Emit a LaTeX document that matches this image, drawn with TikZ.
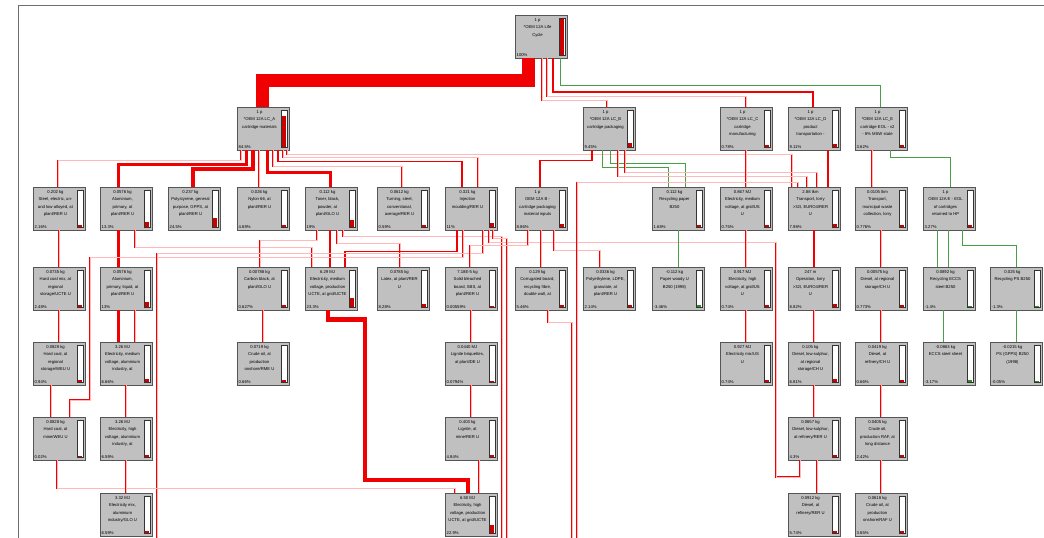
\documentclass[tikz,border=0pt]{standalone}
\usepackage{fontspec}
\setmainfont{Liberation Sans}
\usetikzlibrary{positioning,calc}
\definecolor{boxfill}{RGB}{192,192,192}
\definecolor{boxline}{RGB}{85,85,85}
\definecolor{flowred}{RGB}{240,0,0}
\definecolor{flowpink}{RGB}{255,185,185}
\definecolor{flowgreen}{RGB}{70,160,70}
\definecolor{barred}{RGB}{205,0,0}
\definecolor{bargreen}{RGB}{40,140,40}
\definecolor{framegray}{RGB}{110,110,110}

\tikzset{
  procbox/.style={draw=boxline, fill=boxfill, line width=0.7pt, minimum width=52pt, minimum height=43pt, inner sep=0pt},
  proctext/.style={anchor=north, align=center, inner sep=0pt, font=\fontsize{4.2}{7.5}\selectfont},
  procpct/.style={anchor=south west, inner sep=0pt, font=\fontsize{4.2}{5}\selectfont},
  procbar/.style={draw=black!80, fill=white, line width=0.6pt},
  flowthin/.style={draw=flowred, double=flowpink, line width=0.35pt, double distance=0.6pt},
  flowfat/.style={draw=flowred, line width=#1},
  flowneg/.style={draw=flowgreen, line width=0.8pt}
}

% name, left, top, text, share, bar fraction, bar colour
\newcommand{\unitproc}[7]{%
  \node[procbox] (#1) at ({#2+26},{#3+21.5}) {};
  \node[proctext] (#1-t) at ({#2+22.5},{#3+3}) {#4};
  \node[procpct] (#1-p) at ({#2+1.5},{#3+42}) {#5};
  \draw[procbar] ({#2+44},{#3+3}) rectangle ({#2+50},{#3+40.5});
  \fill[#7] ({#2+44.6},{#3+39.9}) rectangle ({#2+49.4},{#3+39.9-36.3*#6});
}

\begin{document}
\begin{tikzpicture}[x=1pt, y=-1pt]
  \useasboundingbox (0,0) rectangle (1044,538);
  \fill[white] (0,0) rectangle (1044,538);
  \draw[framegray, line width=1pt] (18,538) -- (18,5) -- (1044,5);

  % life cycle stages
  \unitproc{lifecycle}{515}{15}{1 p\\{*}OEM 12A Life\\Cycle}{100\%}{1}{barred}
  \unitproc{lcA}{237}{107}{1 p\\{*}OEM 12A LC\_A\\cartridge materials}{84.5\%}{0.845}{barred}
  \unitproc{lcB}{583}{107}{1 p\\{*}OEM 12A LC\_B\\cartridge packaging}{9.45\%}{0.095}{barred}
  \unitproc{lcC}{720}{107}{1 p\\{*}OEM 12A LC\_C\\cartridge\\manufacturing}{0.78\%}{0.04}{barred}
  \unitproc{lcD}{788}{107}{1 p\\{*}OEM 12A LC\_D\\product\\transportation -}{9.11\%}{0.091}{barred}
  \unitproc{lcE}{855}{107}{1 p\\{*}OEM 12A LC\_E\\cartridge EOL - v2\\- 8\% MSW state}{3.62\%}{0.04}{barred}

  % second row
  \unitproc{steel}{33}{187}{0.202 kg\\Steel, electric, un-\\and low-alloyed, at\\plant/RER U}{2.16\%}{0.04}{barred}
  \unitproc{alu}{100}{187}{0.0576 kg\\Aluminium,\\primary, at\\plant/RER U}{13.3\%}{0.133}{barred}
  \unitproc{gpps}{168}{187}{0.237 kg\\Polystyrene, general\\purpose, GPPS, at\\plant/RER U}{24.5\%}{0.245}{barred}
  \unitproc{nylon}{237}{187}{0.026 kg\\Nylon 66, at\\plant/RER U}{4.69\%}{0.047}{barred}
  \unitproc{toner}{305}{187}{0.112 kg\\Toner, black,\\powder, at\\plant/GLO U}{19\%}{0.19}{barred}
  \unitproc{turning}{377}{187}{0.0612 kg\\Turning, steel,\\conventional,\\average/RER U}{0.59\%}{0.04}{barred}
  \unitproc{moulding}{445}{187}{0.321 kg\\Injection\\moulding/RER U}{11\%}{0.11}{barred}
  \unitproc{pkginputs}{515}{187}{1 p\\OEM 12A B -\\cartridge packaging\\material inputs}{8.86\%}{0.089}{barred}
  \unitproc{recpaper}{652}{187}{0.112 kg\\Recycling paper\\B250}{1.68\%}{0.04}{barred}
  \unitproc{elecmedus}{720}{187}{0.867 MJ\\Electricity, medium\\voltage, at grid/US\\U}{0.75\%}{0.04}{barred}
  \unitproc{lorry}{788}{187}{2.88 tkm\\Transport, lorry\\>32t, EURO4/RER\\U}{7.98\%}{0.08}{barred}
  \unitproc{municipal}{855}{187}{0.0105 tkm\\Transport,\\municipal waste\\collection, lorry}{0.776\%}{0.04}{barred}
  \unitproc{eolinputs}{923}{187}{1 p\\OEM 12A E - EOL\\of cartridges\\returned to HP}{3.27\%}{0.04}{barred}

  % third row
  \unitproc{coalmix}{33}{267}{0.0735 kg\\Hard coal mix, at\\regional\\storage/UCTE U}{2.48\%}{0.04}{barred}
  \unitproc{aluliquid}{100}{267}{0.0576 kg\\Aluminium,\\primary, liquid, at\\plant/RER U}{13\%}{0.13}{barred}
  \unitproc{carbon}{237}{267}{0.00788 kg\\Carbon black, at\\plant/GLO U}{0.627\%}{0.04}{barred}
  \unitproc{elecucte}{305}{267}{6.29 MJ\\Electricity, medium\\voltage, production\\UCTE, at grid/UCTE}{23.3\%}{0.233}{barred}
  \unitproc{latex}{377}{267}{0.0785 kg\\Latex, at plant/RER\\U}{8.28\%}{0.083}{barred}
  \unitproc{sbsboard}{445}{267}{7.18E-5 kg\\Solid bleached\\board, SBS, at\\plant/RER U}{0.00559\%}{0.03}{barred}
  \unitproc{corrugated}{515}{267}{0.129 kg\\Corrugated board,\\recycling fibre,\\double wall, at}{5.46\%}{0.055}{barred}
  \unitproc{ldpe}{583}{267}{0.0336 kg\\Polyethylene, LDPE,\\granulate, at\\plant/RER U}{2.14\%}{0.04}{barred}
  \unitproc{paperwoody}{652}{267}{-0.112 kg\\Paper woody U\\B250 (1998)}{-3.46\%}{0.04}{bargreen}
  \unitproc{elechighus}{720}{267}{0.917 MJ\\Electricity, high\\voltage, at grid/US\\U}{0.74\%}{0.04}{barred}
  \unitproc{operation}{788}{267}{247 m\\Operation, lorry\\>32t, EURO4/RER\\U}{8.82\%}{0.088}{barred}
  \unitproc{dieselreg}{855}{267}{0.00575 kg\\Diesel, at regional\\storage/CH U}{0.773\%}{0.04}{barred}
  \unitproc{receccs}{923}{267}{0.0892 kg\\Recycling ECCS\\steel B250}{-1.4\%}{0.03}{bargreen}
  \unitproc{recps}{990}{267}{0.025 kg\\Recycling PS B250}{-1.3\%}{0.03}{bargreen}

  % fourth row
  \unitproc{coalreg}{33}{342}{0.0828 kg\\Hard coal, at\\regional\\storage/WEU U}{0.94\%}{0.04}{barred}
  \unitproc{elecmedalu}{100}{342}{3.26 MJ\\Electricity, medium\\voltage, aluminium\\industry, at}{6.66\%}{0.067}{barred}
  \unitproc{crudeRME}{237}{342}{0.0719 kg\\Crude oil, at\\production\\onshore/RME U}{0.66\%}{0.04}{barred}
  \unitproc{briquettes}{445}{342}{0.0440 MJ\\Lignite briquettes,\\at plant/DE U}{0.0794\%}{0.03}{barred}
  \unitproc{elecmixus}{720}{342}{0.927 MJ\\Electricity mix/US\\U}{0.74\%}{0.04}{barred}
  \unitproc{dieselLSreg}{788}{342}{0.105 kg\\Diesel, low-sulphur,\\at regional\\storage/CH U}{6.81\%}{0.068}{barred}
  \unitproc{dieselCH}{855}{342}{0.0419 kg\\Diesel, at\\refinery/CH U}{0.66\%}{0.04}{barred}
  \unitproc{eccssheet}{923}{342}{-0.0863 kg\\ECCS steel sheet}{-3.17\%}{0.04}{bargreen}
  \unitproc{gppsold}{990}{342}{-0.0215 kg\\PS (GPPS) B250\\(1998)}{-0.05\%}{0.03}{bargreen}

  % fifth row
  \unitproc{coalmine}{33}{417}{0.0828 kg\\Hard coal, at\\mine/WEU U}{0.02\%}{0.03}{barred}
  \unitproc{elechighalu}{100}{417}{3.26 MJ\\Electricity, high\\voltage, aluminium\\industry, at}{6.59\%}{0.066}{barred}
  \unitproc{lignite}{445}{417}{0.403 kg\\Lignite, at\\mine/RER U}{4.84\%}{0.048}{barred}
  \unitproc{dieselLSref}{788}{417}{0.0657 kg\\Diesel, low-sulphur,\\at refinery/RER U}{4.3\%}{0.043}{barred}
  \unitproc{crudeRAF}{855}{417}{0.0405 kg\\Crude oil,\\production RAF, at\\long distance}{2.42\%}{0.04}{barred}

  % sixth row
  \unitproc{elecmixalu}{100}{493}{3.32 MJ\\Electricity mix,\\aluminium\\industry/GLO U}{6.59\%}{0.066}{barred}
  \unitproc{elechighucte}{445}{493}{6.50 MJ\\Electricity, high\\voltage, production\\UCTE, at grid/UCTE}{22.9\%}{0.229}{barred}
  \unitproc{dieselRER}{788}{493}{0.0912 kg\\Diesel, at\\refinery/RER U}{5.74\%}{0.057}{barred}
  \unitproc{crudeonshore}{855}{493}{0.0618 kg\\Crude oil, at\\production\\onshore/RAF U}{3.65\%}{0.04}{barred}

  % free ends and bends
  \coordinate (bot157) at (157,538);
  \coordinate (bot502) at (502,538);
  \coordinate (bot507) at (507,538);
  \coordinate (bot572) at (572,538);
  \coordinate (bot577) at (577,538);
  \coordinate (via90) at (90,400);
  \coordinate (via365) at (365,480);
  \coordinate (via776) at (776,477);

  % flows from the life cycle
  \draw[flowfat=13pt] ([xshift=-13pt]lifecycle.south) -- ++(0,22) -| ([xshift=-1pt]lcA.north);
  \draw[flowthin] ([xshift=1pt]lifecycle.south) -- ++(0,42) -| ([xshift=-2pt]lcB.north);
  \draw[flowthin] ([xshift=6pt]lifecycle.south) -- ++(0,38) -| (lcC.north);
  \draw[flowfat=2.2pt] ([xshift=12pt]lifecycle.south) -- ++(0,34) -| ([xshift=-1pt]lcD.north);
  \draw[flowneg] ([xshift=19pt]lifecycle.south) -- ++(0,27) -| ([xshift=-1pt]lcE.north);

  % cartridge materials
  \draw[flowthin] ([xshift=-22pt]lcA.south) -- ++(0,10) -| ([xshift=-1pt]steel.north);
  \draw[flowfat=3pt] ([xshift=-17pt]lcA.south) -- ++(0,14) -| ([xshift=-8pt]alu.north);
  \draw[flowfat=4pt] ([xshift=-10pt]lcA.south) -- ++(0,19) -| ([xshift=-1pt]gpps.north);
  \draw[flowthin] ([xshift=-4pt]lcA.south) -- ([xshift=-4pt]nylon.north);
  \draw[flowfat=3pt] ([xshift=4pt]lcA.south) -- ++(0,22) -| ([xshift=-1pt]toner.north);
  \draw[flowthin] ([xshift=10pt]lcA.south) -- ++(0,16) -| ([xshift=-1pt]turning.north);
  \draw[flowfat=1.5pt] ([xshift=15pt]lcA.south) -- ++(0,11) -| ([xshift=-9pt]moulding.north);
  \draw[flowthin] ([xshift=20pt]lcA.south) -- ++(0,7) -| ([xshift=7pt]moulding.north);
  \draw[flowthin] ([xshift=24pt]lcA.south) -- ++(0,4) -| ([xshift=-22pt]lorry.north);

  % packaging, manufacturing, transport, end of life
  \draw[flowfat=1.5pt] ([xshift=-17pt]lcB.south) -- ++(0,10) -| ([xshift=-1pt]pkginputs.north);
  \draw[flowneg] ([xshift=-7pt]lcB.south) -- ++(0,17) -| ([xshift=-10pt]recpaper.north);
  \draw[flowneg] ([xshift=1pt]lcB.south) -- ++(0,13) -| ([xshift=7pt]recpaper.north);
  \draw[flowthin] ([xshift=9pt]lcB.south) -- ++(0,26) -| ([xshift=-7pt]lorry.north);
  \draw[flowthin] ([xshift=16pt]lcB.south) -- ++(0,22) -| ([xshift=3pt]lorry.north);
  \draw[flowthin] (lcC.south) -- (elecmedus.north);
  \draw[flowfat=2.2pt] ([xshift=14pt]lcD.south) -- ([xshift=14pt]lorry.north);
  \draw[flowthin] ([xshift=-9pt]lcE.south) -- ([xshift=-9pt]municipal.north);
  \draw[flowneg] ([xshift=9pt]lcE.south) -- ++(0,7) -| ([xshift=1pt]eolinputs.north);

  % second to third row
  \draw[flowthin] (steel.south) -- (coalmix.north);
  \draw[flowfat=3pt] ([xshift=-8pt]alu.south) -- ([xshift=-8pt]aluliquid.north);
  \draw[flowthin] ([xshift=9pt]alu.south) -- ++(0,17) -| ([xshift=-19pt]elecucte.north);
  \draw[flowthin] ([xshift=-14pt]toner.south) -- ++(0,10) -| ([xshift=-3pt]carbon.north);
  \draw[flowfat=2.5pt] ([xshift=-1pt]toner.south) -- ([xshift=-1pt]elecucte.north);
  \draw[flowthin] ([xshift=6pt]toner.south) -- ++(0,13) -| ([xshift=-3pt]latex.north);
  \draw[flowthin] ([xshift=12pt]toner.south) -- ++(0,6) -| (bot502);
  \draw[flowfat=1.5pt] ([xshift=-14pt]moulding.south) -- ++(0,21) -| ([xshift=14pt]elecucte.north);
  \draw[flowthin] ([xshift=-8pt]moulding.south) -- ++(0,27) -| (via90) -| ([xshift=11pt]coalmine.north);
  \draw[flowthin] ([xshift=12pt]moulding.south) -- ++(0,23) -| (bot157);
  \draw[flowthin] ([xshift=18pt]moulding.south) -- ++(0,12) -| (via776) -| ([xshift=-14pt]dieselLSref.south);
  \draw[flowthin] ([xshift=22pt]moulding.south) -- ++(0,8) -| (bot507);
  \draw[flowthin] ([xshift=-13pt]pkginputs.south) -- ++(0,15) -| ([xshift=-1pt]sbsboard.north);
  \draw[flowthin] (pkginputs.south) -- (corrugated.north);
  \draw[flowthin] ([xshift=13pt]pkginputs.south) -- ++(0,20) -| ([xshift=-9pt]ldpe.north);
  \draw[flowneg] (recpaper.south) -- (paperwoody.north);
  \draw[flowthin] (elecmedus.south) -- (elechighus.north);
  \draw[flowfat=1.5pt] (lorry.south) -- (operation.north);
  \draw[flowthin] (municipal.south) -- (dieselreg.north);
  \draw[flowneg] ([xshift=-12pt]eolinputs.south) -- ([xshift=-12pt]receccs.north);
  \draw[flowneg] ([xshift=-1pt]eolinputs.south) -- ([xshift=-1pt]receccs.north);
  \draw[flowneg] ([xshift=13pt]eolinputs.south) -- ++(0,15) -| (recps.north);
  \draw[flowthin] (bot577) |- ([xshift=-16pt,yshift=4pt]lorry.north) -- ([xshift=-16pt]lorry.north);
  \draw[flowthin] ([xshift=7pt]corrugated.south) -- ++(0,12) -| (bot572);

  % third to fourth row
  \draw[flowthin] (coalmix.south) -- (coalreg.north);
  \draw[flowfat=3pt] ([xshift=-8pt]aluliquid.south) -- ([xshift=-8pt]elecmedalu.north);
  \draw[flowthin] ([xshift=9pt]aluliquid.south) -- ([xshift=9pt]elecmedalu.north);
  \draw[flowthin] (carbon.south) -- (crudeRME.north);
  \draw[flowfat=4.5pt] ([xshift=-3pt]elecucte.south) -- ++(0,9) -| (via365) -| ([xshift=-3pt]elechighucte.north);
  \draw[flowthin] (sbsboard.south) -- (briquettes.north);
  \draw[flowthin] (elechighus.south) -- (elecmixus.north);
  \draw[flowthin] (operation.south) -- (dieselLSreg.north);
  \draw[flowthin] (dieselreg.south) -- (dieselCH.north);
  \draw[flowneg] ([xshift=-6pt]receccs.south) -- ([xshift=-6pt]eccssheet.north);
  \draw[flowneg] (recps.south) -- (gppsold.north);

  % fourth to sixth row
  \draw[flowthin] ([xshift=-8pt]coalreg.south) -- ([xshift=-8pt]coalmine.north);
  \draw[flowthin] (elecmedalu.south) -- (elechighalu.north);
  \draw[flowthin] (briquettes.south) -- (lignite.north);
  \draw[flowthin] (dieselLSreg.south) -- (dieselLSref.north);
  \draw[flowthin] (dieselCH.south) -- (crudeRAF.north);
  \draw[flowthin] ([xshift=-2pt]coalmine.south) -- ++(0,28) -| ([xshift=-16pt]elechighucte.north);
  \draw[flowthin] (elechighalu.south) -- (elecmixalu.north);
  \draw[flowthin] ([xshift=8pt]lignite.south) -- ([xshift=8pt]elechighucte.north);
  \draw[flowthin] ([xshift=3pt]dieselLSref.south) -- ([xshift=3pt]dieselRER.north);
  \draw[flowthin] (crudeRAF.south) -- (crudeonshore.north);
\end{tikzpicture}
\end{document}
